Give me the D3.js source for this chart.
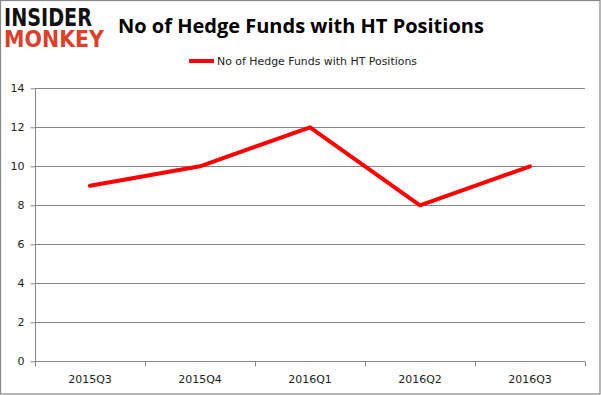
<!DOCTYPE html>
<html><head><meta charset="utf-8">
<script src="https://d3js.org/d3.v7.min.js"></script>
<style>body{margin:0;background:#fff;}svg{display:block;}</style>
</head><body>
<script>
const categories = ["2015Q3","2015Q4","2016Q1","2016Q2","2016Q3"];
const values = [9,10,12,8,10];
const yTicks = [0,2,4,6,8,10,12,14];
const seriesName = "No of Hedge Funds with HT Positions";
const titleText = "No of Hedge Funds with HT Positions";

const W = 601, H = 395;
const svg = d3.select("body").append("svg").attr("width", W).attr("height", H);
svg.append("rect").attr("x",0.5).attr("y",0.5).attr("width",W-1.5).attr("height",H-1.5)
  .attr("fill","#fff").attr("stroke","#888").attr("stroke-width",1.2);

const x = d3.scaleBand().domain(categories).range([35,585]);
const y = d3.scaleLinear().domain([0,14]).range([361.3,88.3]);

// grid
svg.append("g").selectAll("line").data(yTicks.filter(d=>d>0)).join("line")
  .attr("x1",35).attr("x2",585).attr("y1",d=>Math.round(y(d))+0.5).attr("y2",d=>Math.round(y(d))+0.5)
  .attr("stroke","#868686").attr("stroke-width",1);

// y axis
const yAxis = d3.axisLeft(y).tickValues(yTicks).tickSize(5).tickPadding(6);
const gy = svg.append("g").attr("transform","translate(35.5,0)").call(yAxis);
gy.select(".domain").attr("stroke","#868686").attr("d","M0,"+y(14)+"V"+(Math.round(y(0))+0.5));
gy.selectAll(".tick line").attr("stroke","#868686");
gy.selectAll(".tick text").attr("fill","#222").style("font-family","'DejaVu Sans',sans-serif").style("font-size","11px");

// x axis
const xAxis = d3.axisBottom(x).tickSize(5).tickPadding(9);
const gx = svg.append("g").attr("transform","translate(0,"+(Math.round(y(0))+0.5)+")").call(xAxis);
gx.select(".domain").attr("stroke","#868686").attr("d","M35,0H585");
gx.selectAll(".tick line").remove();
const bounds = [35].concat(categories.map(c=>x(c)+x.bandwidth()));
gx.append("g").selectAll("line").data(bounds).join("line")
  .attr("x1",d=>Math.round(d)+0.5).attr("x2",d=>Math.round(d)+0.5).attr("y1",0).attr("y2",5)
  .attr("stroke","#868686");
gx.selectAll(".tick text").attr("fill","#222").style("font-family","'DejaVu Sans',sans-serif").style("font-size","11px");

// line
const line = d3.line().x((d,i)=>x(categories[i])+x.bandwidth()/2).y(d=>y(d));
svg.append("path").datum(values).attr("d",line).attr("fill","none")
  .attr("stroke","#ff0000").attr("stroke-width",4).attr("stroke-linejoin","round").attr("stroke-linecap","round");

// title
const t = svg.append("text").attr("x",118).attr("y",33).text(titleText)
  .style("font-family","'Open Sans','Liberation Sans',sans-serif").style("font-weight","bold").style("font-size","22px").attr("fill","#000");
const tl = t.node().getComputedTextLength();
t.style("font-size",(22*366/tl)+"px");

// legend
svg.append("line").attr("x1",189).attr("x2",214).attr("y1",61).attr("y2",61).attr("stroke","#ff0000").attr("stroke-width",4);
const lt = svg.append("text").attr("x",217).attr("y",65).text(seriesName)
  .style("font-family","'DejaVu Sans',sans-serif").style("font-size","11px").attr("fill","#222");
const ll = lt.node().getComputedTextLength();
lt.attr("textLength",200).attr("lengthAdjust","spacingAndGlyphs");

// logo
const l1 = svg.append("text").attr("x",4).attr("y",26).text("INSIDER")
  .style("font-family","'DejaVu Sans',sans-serif").style("font-weight","bold").style("font-size","24px").attr("fill","#111")
  .attr("textLength",88).attr("lengthAdjust","spacingAndGlyphs");
const l2 = svg.append("text").attr("x",4).attr("y",47).text("MONKEY")
  .style("font-family","'DejaVu Sans',sans-serif").style("font-weight","bold").style("font-size","23px").attr("fill","#d9412b")
  .attr("textLength",100).attr("lengthAdjust","spacingAndGlyphs");
</script>
</body></html>
